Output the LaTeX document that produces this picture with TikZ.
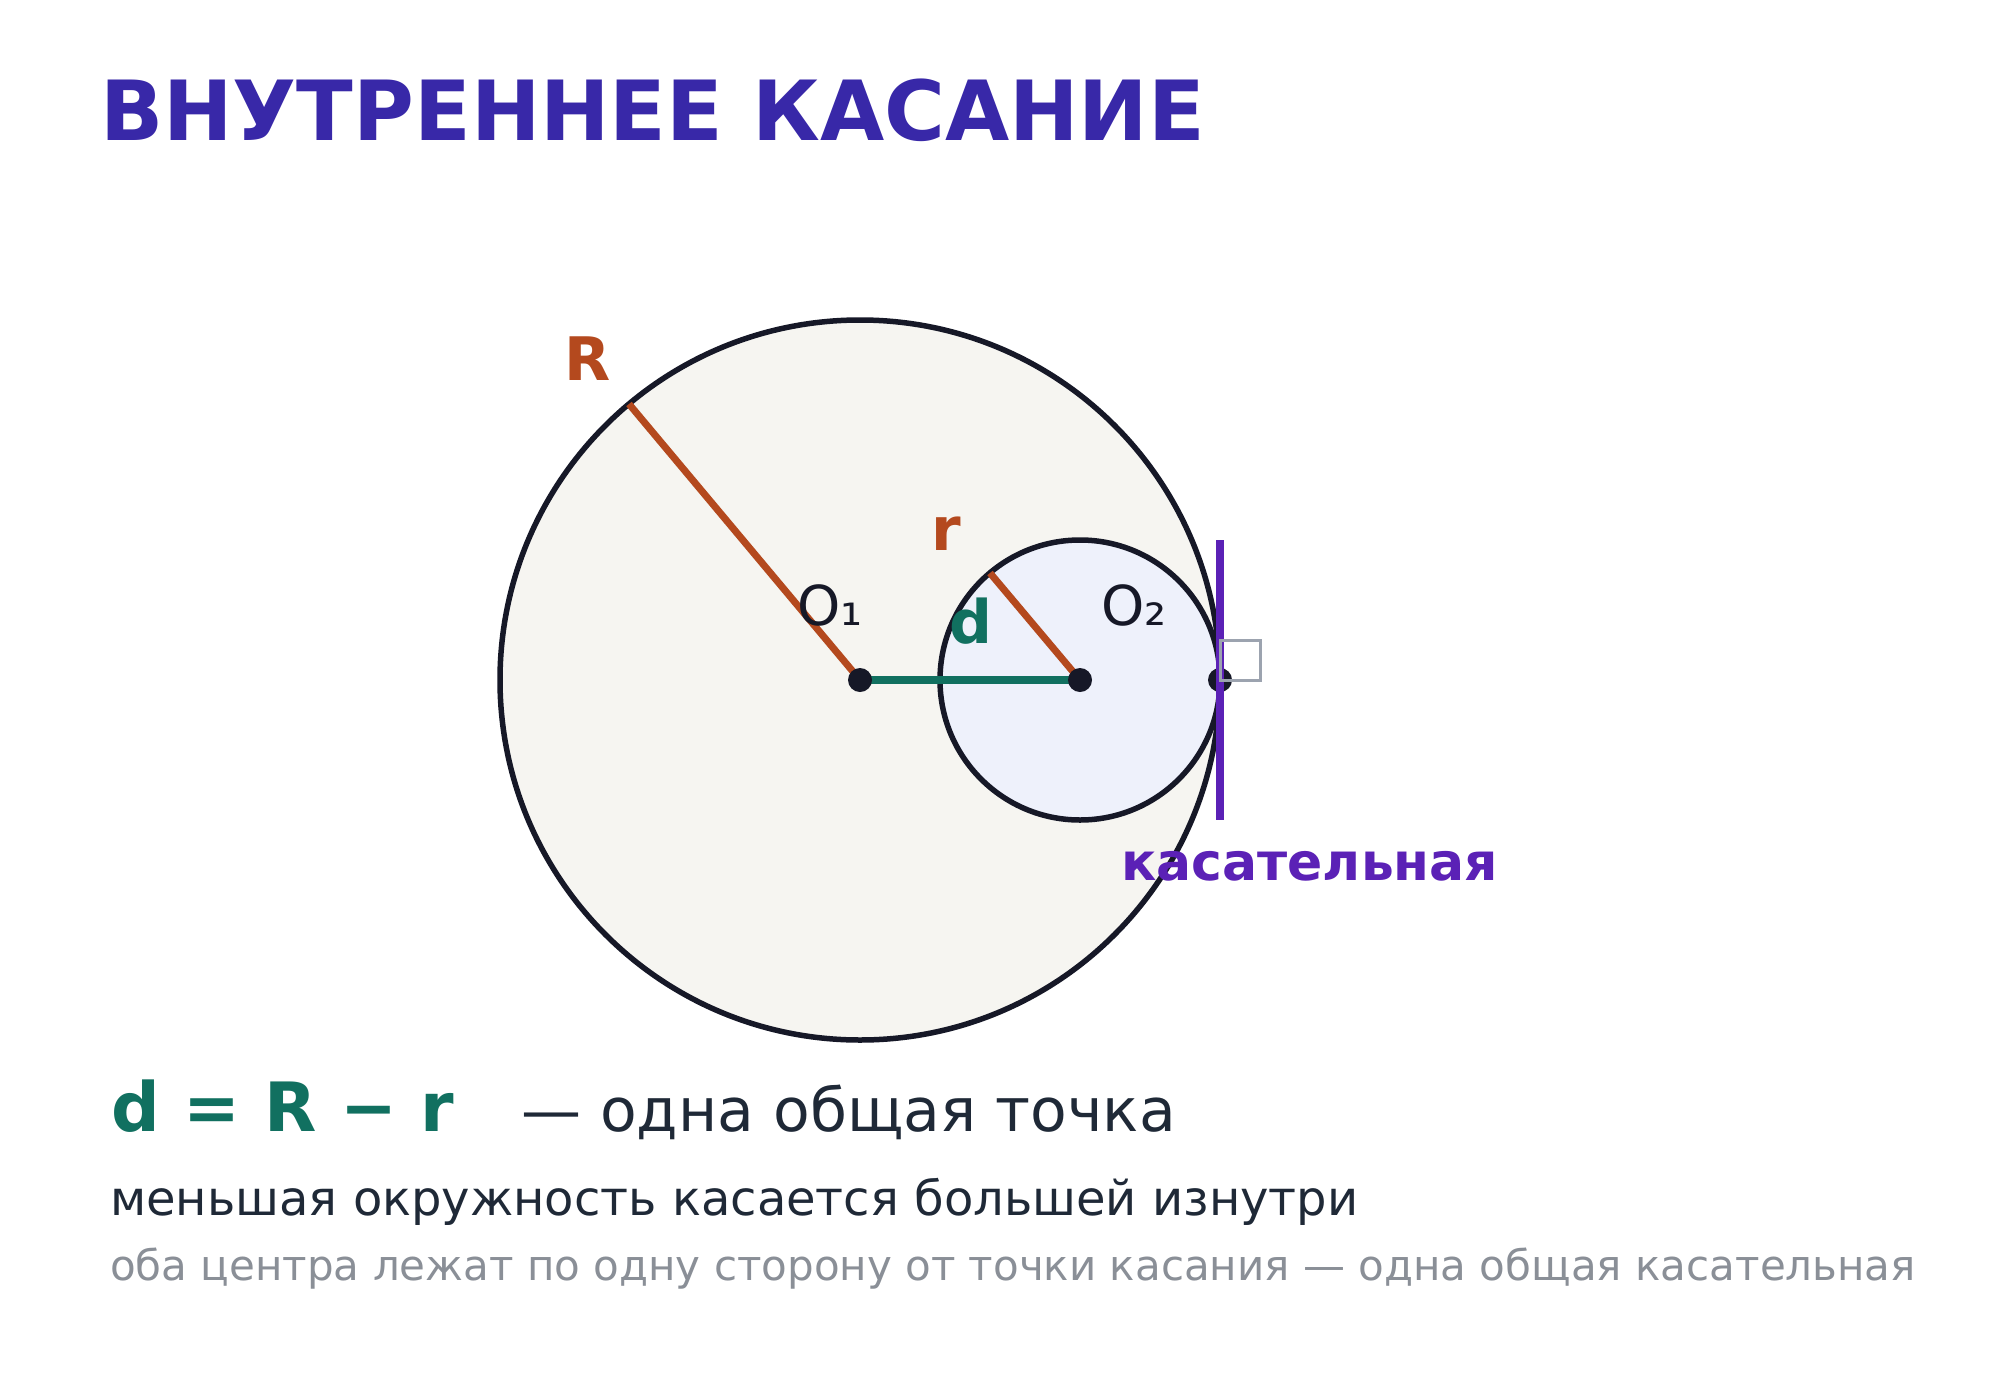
\documentclass[tikz,border=0pt]{standalone}
\usepackage{fontspec}
\setmainfont{DejaVu Sans}
\usetikzlibrary{positioning}

\definecolor{titleblue}{HTML}{3828A8}
\definecolor{radbrown}{HTML}{B4491E}
\definecolor{distgreen}{HTML}{117060}
\definecolor{tanviolet}{HTML}{5B21B6}
\definecolor{inkdark}{HTML}{161827}
\definecolor{textdark}{HTML}{1F2937}
\definecolor{textgray}{HTML}{8A8F97}
\definecolor{bigfill}{HTML}{F6F5F1}
\definecolor{smallfill}{HTML}{EEF1FB}
\definecolor{markgray}{HTML}{9CA3AF}

\begin{document}
\begin{tikzpicture}[
    x=1pt, y=-1pt,
    circ/.style={draw=inkdark, line width=5.5pt},
    radline/.style={draw=radbrown, line width=7pt},
    dot/.style={circle, fill=inkdark, inner sep=0pt, minimum size=24pt},
    label text/.style={inner sep=0pt, anchor=base},
    caption/.style={inner sep=0pt, anchor=base west}
]

% Canvas
\fill[white] (0,0) rectangle (2000,1400);
\useasboundingbox (0,0) rectangle (2000,1400);

% Title
\node[caption, text=titleblue, font=\fontsize{83}{98}\selectfont\bfseries] (title) at (100,140) {ВНУТРЕННЕЕ КАСАНИЕ};

% Centres and tangent point
\coordinate (O1) at (860,680);
\coordinate (O2) at (1080,680);
\coordinate (T) at (1220,680);
\coordinate (Rend) at (629,404);
\coordinate (rend) at (990,573);
\coordinate (Ttop) at (1220,540);
\coordinate (Tbot) at (1220,820);

% Circles
\draw[circ, fill=bigfill] (O1) circle[radius=360pt];
\draw[circ, fill=smallfill] (O2) circle[radius=140pt];

% Radii and distance
\draw[radline] (O1) -- (Rend);
\draw[radline] (O2) -- (rend);
\draw[distgreen, line width=8pt] (O1) -- (O2);

% Points
\node[dot] (dotO1) at (O1) {};
\node[dot] (dotO2) at (O2) {};
\node[dot] (dotT) at (T) {};

% Tangent line with right-angle mark
\draw[tanviolet, line width=7.5pt] (Ttop) -- (Tbot);
\draw[markgray, line width=3pt] (T) rectangle ++(40,-40);

% Labels
\node[label text, text=radbrown, font=\fontsize{60}{72}\selectfont\bfseries] (labR) at (588,380) {R};
\node[label text, text=radbrown, font=\fontsize{60}{72}\selectfont\bfseries] (labr) at (946,550) {r};
\node[label text, text=distgreen, font=\fontsize{60}{72}\selectfont\bfseries] (labd) at (971,643) {d};
\node[label text, text=inkdark, font=\fontsize{55}{66}\selectfont] (labO1) at (830,625) {O₁};
\node[label text, text=inkdark, font=\fontsize{55}{66}\selectfont] (labO2) at (1134,625) {O₂};
\node[caption, text=tanviolet, font=\fontsize{52}{62}\selectfont\bfseries] (labT) at (1121,880) {касательная};

% Formula and notes
\node[caption, text=distgreen, font=\fontsize{68}{80}\selectfont\bfseries] (formula) at (111,1131) {d = R − r};
\node[caption, text=textdark, font=\fontsize{60}{72}\selectfont] (note) at (521,1131) {— одна общая точка};
\node[caption, text=textdark, font=\fontsize{48}{58}\selectfont] (line2) at (110,1215) {меньшая окружность касается большей изнутри};
\node[caption, text=textgray, font=\fontsize{42}{50}\selectfont] (line3) at (110,1280) {оба центра лежат по одну сторону от точки касания — одна общая касательная};

\end{tikzpicture}
\end{document}
